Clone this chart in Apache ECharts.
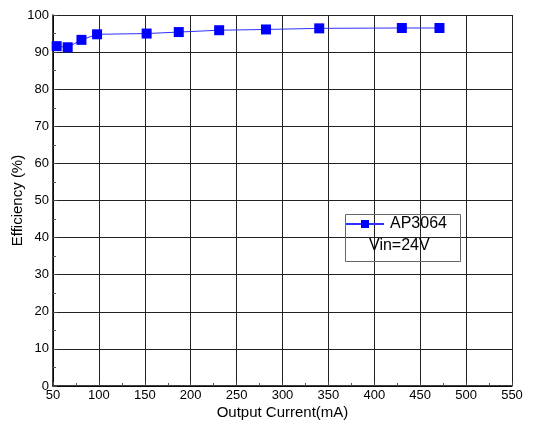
<!DOCTYPE html>
<html><head><meta charset="utf-8">
<script src="https://cdn.jsdelivr.net/npm/echarts@6/dist/echarts.min.js"></script>
<style>html,body{margin:0;padding:0;background:#fff}#c{width:550px;height:429px}</style>
</head><body><div id="c"></div>
<script>
const current = [54, 66, 81, 98, 152, 187, 231, 282, 340, 430, 471];
const efficiency = [91.6, 91.3, 93.3, 94.8, 95.0, 95.4, 95.9, 96.1, 96.4, 96.5, 96.5];
const seriesName = 'AP3064';
const noteText = 'Vin=24V';
const font = 'Liberation Sans, Arial, sans-serif';
const chart = echarts.init(document.getElementById('c'));
chart.setOption({
  animation: false,
  grid: {left: 53, right: 38, top: 15, bottom: 43, containLabel: false, outerBoundsMode: 'none'},
  xAxis: {
    type: 'value', min: 50, max: 550, interval: 50,
    name: 'Output Current(mA)', nameLocation: 'middle', nameGap: 19, nameMoveOverlap: false,
    nameTextStyle: {color: '#000', fontSize: 15, fontFamily: font},
    axisLine: {show: true, lineStyle: {color: '#000', width: 1.5}},
    axisTick: {show: true, inside: true, length: 4, lineStyle: {color: '#444'}},
    minorTick: {show: true, splitNumber: 2, length: 3, lineStyle: {color: '#555'}},
    axisLabel: {color: '#000', fontSize: 13, fontFamily: font, margin: 3},
    splitLine: {show: true, lineStyle: {color: '#222', width: 1}}
  },
  yAxis: {
    type: 'value', min: 0, max: 100, interval: 10,
    name: 'Efficiency (%)', nameLocation: 'middle', nameGap: 28, nameMoveOverlap: false,
    nameTextStyle: {color: '#000', fontSize: 15, fontFamily: font},
    axisLine: {show: true, lineStyle: {color: '#000', width: 1.5}},
    axisTick: {show: true, inside: true, length: 4, lineStyle: {color: '#444'}},
    minorTick: {show: true, splitNumber: 2, length: 3, lineStyle: {color: '#555'}},
    axisLabel: {color: '#000', fontSize: 13, fontFamily: font, margin: 4},
    splitLine: {show: true, lineStyle: {color: '#222', width: 1}}
  },
  legend: {
    left: 345, top: 216, itemWidth: 38, itemHeight: 10, itemGap: 0, padding: 0,
    textStyle: {color: '#000', fontSize: 16, fontFamily: font, padding: [0,0,0,1]},
    data: [{name: seriesName}]
  },
  graphic: [
    {type: 'rect', left: 343, top: 212, shape: {width: 115, height: 47}, style: {fill: 'none', stroke: '#666', lineWidth: 1}, z: 1},
    {type: 'text', left: 369, top: 238, style: {text: noteText, fill: '#000', fontSize: 16, fontFamily: font}, z: 2}
  ],
  series: [{
    name: seriesName, type: 'line',
    data: current.map((x, i) => [x, efficiency[i]]),
    symbol: 'rect', symbolSize: 10,
    itemStyle: {color: '#0000ff'},
    lineStyle: {color: '#3030ff', width: 1},
    z: 5
  }]
});
</script></body></html>
